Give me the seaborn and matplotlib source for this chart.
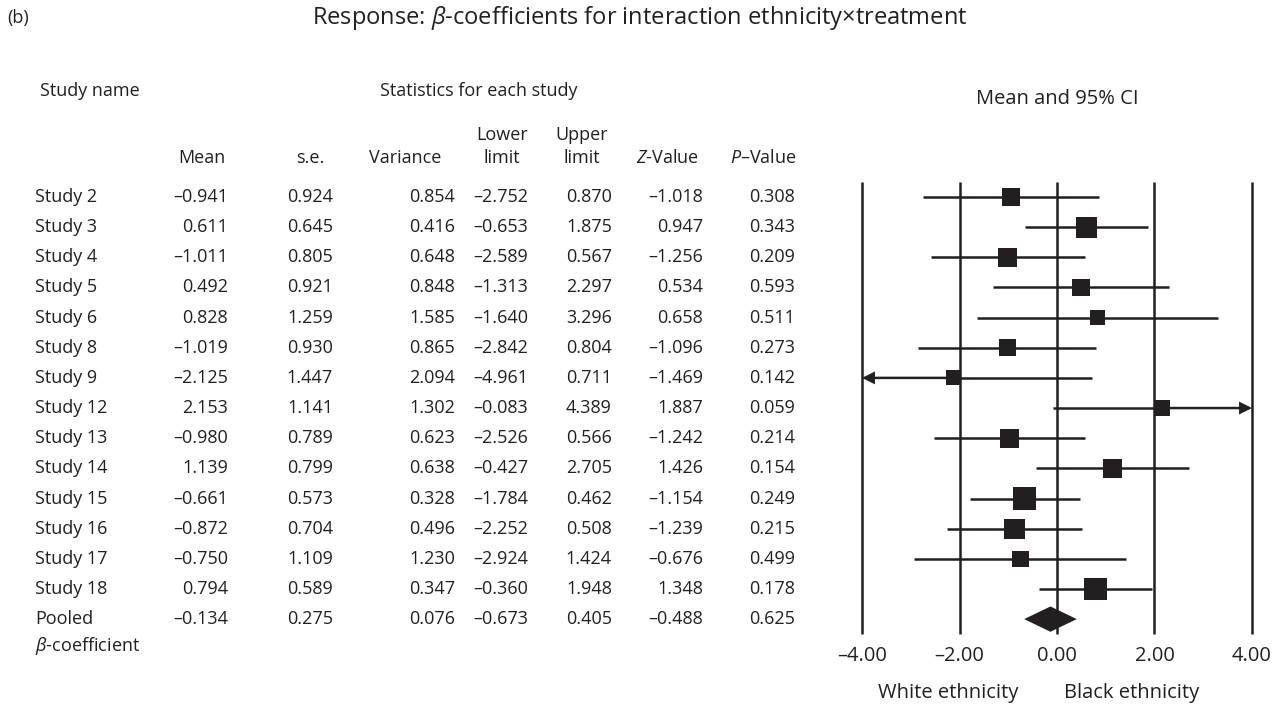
import numpy as np
import pandas as pd
import matplotlib
matplotlib.use("Agg")
import matplotlib.pyplot as plt
import matplotlib.transforms as mtransforms
import seaborn as sns

# data
studies = ["Study 2", "Study 3", "Study 4", "Study 5", "Study 6", "Study 8", "Study 9",
           "Study 12", "Study 13", "Study 14", "Study 15", "Study 16", "Study 17", "Study 18"]
mean = [-0.941, 0.611, -1.011, 0.492, 0.828, -1.019, -2.125, 2.153, -0.980, 1.139, -0.661, -0.872, -0.750, 0.794]
se = [0.924, 0.645, 0.805, 0.921, 1.259, 0.930, 1.447, 1.141, 0.789, 0.799, 0.573, 0.704, 1.109, 0.589]
variance = [0.854, 0.416, 0.648, 0.848, 1.585, 0.865, 2.094, 1.302, 0.623, 0.638, 0.328, 0.496, 1.230, 0.347]
lower = [-2.752, -0.653, -2.589, -1.313, -1.640, -2.842, -4.961, -0.083, -2.526, -0.427, -1.784, -2.252, -2.924, -0.360]
upper = [0.870, 1.875, 0.567, 2.297, 3.296, 0.804, 0.711, 4.389, 0.566, 2.705, 0.462, 0.508, 1.424, 1.948]
zval = [-1.018, 0.947, -1.256, 0.534, 0.658, -1.096, -1.469, 1.887, -1.242, 1.426, -1.154, -1.239, -0.676, 1.348]
pval = [0.308, 0.343, 0.209, 0.593, 0.511, 0.273, 0.142, 0.059, 0.214, 0.154, 0.249, 0.215, 0.499, 0.178]

pooled = {"mean": -0.134, "se": 0.275, "variance": 0.076, "lower": -0.673, "upper": 0.405, "z": -0.488, "p": 0.625}
ticks = [-4, -2, 0, 2, 4]

ink = "#231f20"
sns.set_theme(style="white")
plt.rcParams["font.family"] = ["Open Sans", "DejaVu Sans"]
plt.rcParams["mathtext.fontset"] = "custom"
plt.rcParams["mathtext.rm"] = "Open Sans"
plt.rcParams["mathtext.it"] = "Open Sans:italic"
plt.rcParams["text.color"] = ink

W, H = 1285, 704
fig = plt.figure(figsize=(W / 100, H / 100), dpi=100)
ax = fig.add_axes([847.4 / W, 1 - 637.2 / H, 419.2 / W, 458.3 / H])

df = pd.DataFrame({"study": studies, "mean": mean, "lower": lower, "upper": upper,
                   "variance": variance, "row": np.arange(len(studies))})
df["weight"] = 1 / df["variance"]
n = len(df)
pooled_row = n
lw = 1.8

# grid lines
ax.vlines(ticks, -0.5, pooled_row + 0.5, color=ink, lw=lw)

# confidence intervals; ends outside the axis range become arrows
lo = df["lower"].clip(-4, 4)
hi = df["upper"].clip(-4, 4)
arrow = dict(arrowstyle="-|>", color=ink, lw=lw, mutation_scale=16, shrinkA=0, shrinkB=0,
             capstyle="butt", joinstyle="miter")
for r, m, l, u, lc, hc in zip(df["row"], df["mean"], df["lower"], df["upper"], lo, hi):
    if l < -4:
        ax.annotate("", xy=(-4, r), xytext=(m, r), arrowprops=arrow)
        ax.hlines(r, m, hc, color=ink, lw=lw)
    elif u > 4:
        ax.annotate("", xy=(4, r), xytext=(m, r), arrowprops=arrow)
        ax.hlines(r, lc, m, color=ink, lw=lw)
    else:
        ax.hlines(r, lc, hc, color=ink, lw=lw)

sns.scatterplot(data=df, x="mean", y="row", size="weight", sizes=(117, 274),
                marker="s", color=ink, linewidth=0, legend=False, ax=ax, zorder=3)

# pooled diamond
h = 0.42
ax.fill([pooled["lower"], pooled["mean"], pooled["upper"], pooled["mean"]],
        [pooled_row, pooled_row - h, pooled_row, pooled_row + h], color=ink, lw=0, zorder=3)

ax.set_xlim(-4.3, 4.3)
ax.set_ylim(pooled_row + 0.6, -0.6)
ax.set_xticks(ticks)
ax.set_xticklabels([f"{t:.2f}".replace("-", "–") for t in ticks], fontsize=14.5, color=ink)
ax.tick_params(axis="x", length=0, pad=6)
ax.set_yticks([])
ax.set_xlabel("")
ax.set_ylabel("")
for s in ax.spines.values():
    s.set_visible(False)

ax.annotate("White ethnicity", xy=(-2.24, -0.122), xycoords=("data", "axes fraction"),
            ha="center", va="center", fontsize=14.5, annotation_clip=False)
ax.annotate("Black ethnicity", xy=(1.54, -0.122), xycoords=("data", "axes fraction"),
            ha="center", va="center", fontsize=14.5, annotation_clip=False)

# table text aligned to forest rows
tr = mtransforms.blended_transform_factory(fig.transFigure, ax.transData)
fs = 13


def fmt(v):
    return f"{v:.3f}".replace("-", "–")


col_right = [228, 333, 455, 528, 612, 703, 795]
col_center = [202, 310, 405, 502, 582, 667, 763]
cols = [mean, se, variance, lower, upper, zval, pval]
for i in range(n):
    ax.text(35 / W, i, studies[i], transform=tr, ha="left", va="center", fontsize=fs, clip_on=False)
    for xr, c in zip(col_right, cols):
        ax.text(xr / W, i, fmt(c[i]), transform=tr, ha="right", va="center", fontsize=fs, clip_on=False)

pvals = [pooled["mean"], pooled["se"], pooled["variance"], pooled["lower"], pooled["upper"], pooled["z"], pooled["p"]]
ax.text(35 / W, pooled_row, "Pooled", transform=tr, ha="left", va="center", fontsize=fs, clip_on=False)
ax.text(35 / W, pooled_row + 0.9, r"$\mathit{\beta}$-coefficient", transform=tr, ha="left", va="center",
        fontsize=fs, clip_on=False)
for xr, v in zip(col_right, pvals):
    ax.text(xr / W, pooled_row, fmt(v), transform=tr, ha="right", va="center", fontsize=fs, clip_on=False)

# column headers
headers = ["Mean", "s.e.", "Variance", "limit", "limit", r"$\mathit{Z}$-Value", r"$\mathit{P}$–Value"]
for xc, t in zip(col_center, headers):
    fig.text(xc / W, 1 - 158 / H, t, ha="center", va="center", fontsize=fs)
fig.text(col_center[3] / W, 1 - 135 / H, "Lower", ha="center", va="center", fontsize=fs)
fig.text(col_center[4] / W, 1 - 135 / H, "Upper", ha="center", va="center", fontsize=fs)

fig.text(40 / W, 1 - 91 / H, "Study name", ha="left", va="center", fontsize=fs)
fig.text(380 / W, 1 - 91 / H, "Statistics for each study", ha="left", va="center", fontsize=fs)
fig.text(1057 / W, 1 - 99 / H, "Mean and 95% CI", ha="center", va="center", fontsize=14.5)

fig.text(7 / W, 1 - 18 / H, "(b)", ha="left", va="center", fontsize=fs)
fig.text(640 / W, 1 - 18 / H, r"Response: $\mathit{\beta}$-coefficients for interaction ethnicity×treatment",
         ha="center", va="center", fontsize=17)

fig.savefig("out.png", dpi=100, facecolor="white")
